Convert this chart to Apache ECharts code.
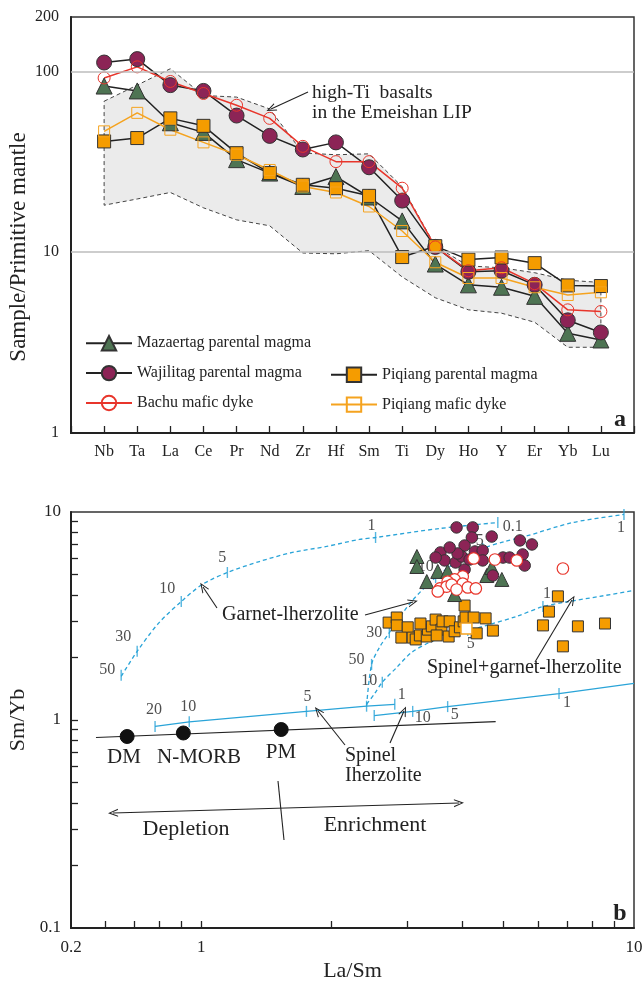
<!DOCTYPE html>
<html>
<head>
<meta charset="utf-8">
<script src="https://cdn.jsdelivr.net/npm/echarts@6/dist/echarts.min.js"></script>
<style>
html, body { margin: 0; padding: 0; background: #fff; }
#main { width: 643px; height: 983px; }
</style>
</head>
<body>
<div id="main"></div>
<script>
var FONT = '"Liberation Serif", "Times New Roman", serif';
var INK = '#222';
var BLUE = '#2aa4d8';

// ---- (a) primitive-mantle normalised patterns ----
var elements = ['Nb', 'Ta', 'La', 'Ce', 'Pr', 'Nd', 'Zr', 'Hf', 'Sm', 'Ti', 'Dy', 'Ho', 'Y', 'Er', 'Yb', 'Lu'];
var mazaertag = [83, 78, 52, 46, 32.5, 27.4, 23.1, 26.2, 20.2, 14.9, 8.6, 6.6, 6.4, 5.7, 3.56, 3.27];
var wajilitag = [112, 117, 84, 78, 57, 44, 37, 40.5, 29.5, 19.3, 10.7, 7.8, 7.9, 6.6, 4.2, 3.6];
var piqiang = [41, 42.8, 55, 50, 35.3, 27.4, 23.6, 22.6, 20.5, 9.4, 10.8, 9.1, 9.35, 8.7, 6.55, 6.5];
var bachuDyke = [92, 106, 88, 75.5, 65, 55, 38.5, 31.7, 31.7, 22.6, 10.7, 7.9, 8.2, 6.7, 4.8, 4.7];
var piqiangDyke = [46.6, 59, 47.6, 40.5, 34.6, 28.5, 23.1, 21.4, 17.9, 13.1, 8.8, 7.2, 7.2, 6.4, 5.8, 6.0];
// high-Ti basalt field (Emeishan LIP)
var emeishanUpper = [68.4, 84, 103.5, 73.6, 72.1, 62, 35.4, 34.6, 35, 23, 10.8, 8.4, 8.2, 7.7, 7.0, 6.8];
var emeishanLower = [18.2, 19.7, 21.4, 17.6, 15.1, 14.0, 9.9, 9.8, 10.2, 7.3, 5.6, 4.8, 4.6, 4.1, 2.98, 2.98];
var ticksA = [1, 2, 3, 4, 5, 6, 7, 8, 9, 10, 20, 30, 40, 50, 60, 70, 80, 90, 100, 200];
var labelsA = [1, 10, 100, 200];

// ---- (b) La/Sm vs Sm/Yb ----
var mazaertagB = [[3.15, 6.11], [3.15, 5.47], [3.32, 4.63], [3.52, 5.18], [3.71, 5.18], [3.85, 4.01], [4.57, 4.95], [4.69, 5.41], [4.95, 4.74]];
var wajilitagB = [[3.89, 8.43], [4.24, 8.43], [4.69, 7.62], [4.22, 7.54], [4.06, 6.90], [3.57, 6.39], [3.65, 5.85], [3.87, 5.72], [4.00, 6.11], [3.91, 6.32], [4.29, 6.46], [4.47, 6.53], [4.47, 5.85], [4.06, 5.29], [4.72, 4.95], [4.98, 6.04], [5.16, 6.04], [5.45, 7.30], [5.81, 6.98], [5.53, 6.25], [5.59, 5.53], [3.75, 6.75], [4.17, 5.91], [3.48, 6.04]];
var bachuB = [[4.26, 5.98], [4.77, 5.91], [5.36, 5.85], [6.85, 5.35], [4.02, 4.90], [3.85, 4.74], [3.71, 4.63], [3.56, 4.29], [3.69, 4.38], [3.52, 4.15], [4.02, 4.53], [4.13, 4.34], [4.31, 4.29], [3.79, 4.48], [3.89, 4.24]];
var piqiangB = [[2.71, 2.94], [2.83, 3.11], [2.83, 2.85], [3.00, 2.79], [2.90, 2.49], [3.08, 2.49], [3.13, 2.44], [3.20, 2.55], [3.32, 2.52], [3.34, 2.72], [3.41, 2.82], [3.48, 3.04], [3.59, 2.72], [3.61, 2.98], [3.75, 2.98], [3.73, 2.52], [3.85, 2.67], [3.96, 2.79], [4.04, 2.98], [4.06, 3.55], [4.08, 3.11], [4.26, 3.11], [4.54, 3.08], [4.33, 2.61], [4.72, 2.69], [6.67, 3.93], [6.36, 3.32], [6.16, 2.85], [6.85, 2.26], [7.42, 2.82], [8.57, 2.91], [3.21, 2.91], [3.50, 2.55]];
var piqiangDykeB = [[4.10, 2.75]];
var sourceNames = ['DM', 'N-MORB', 'PM'];
var sourcePoints = [[0.674, 0.833], [0.909, 0.866], [1.53, 0.90]];
var mantleArray = [[0.571, 0.824], [4.79, 0.983]];
// melting curves
var garnetCurve = [[0.653, 1.62], [0.711, 2.14], [0.799, 2.94], [0.899, 3.71], [1.005, 4.48], [1.149, 5.12], [1.362, 5.78], [1.624, 6.39], [1.947, 6.83], [2.321, 7.38], [2.528, 7.54], [3.555, 8.33], [4.845, 8.90]];
var garnetCurve2 = [[2.41, 1.17], [2.475, 1.85], [2.58, 2.23], [2.72, 2.63], [3.06, 3.71], [3.48, 4.84], [4.0, 5.98], [4.47, 6.68], [5.03, 7.22], [5.59, 7.62], [7.22, 8.90], [9.48, 9.73]];
var spinelGarnetCurve = [[2.41, 1.19], [2.51, 1.33], [2.62, 1.52], [2.83, 1.79], [3.06, 2.11], [3.37, 2.36], [3.69, 2.52], [4.13, 2.69], [4.64, 2.88], [5.36, 3.15], [6.16, 3.51], [6.85, 3.67], [8.34, 3.93], [10, 4.2]];
var spinelLine1 = [[0.782, 0.931], [0.938, 0.98], [1.75, 1.10], [2.41, 1.165], [2.80, 1.19]];
var spinelLine2 = [[2.51, 1.05], [3.08, 1.10], [3.71, 1.16], [6.71, 1.34], [10, 1.50]];
// melting degree marks (x, y, %)
var garnetTicks = [[0.653, 1.64, '50'], [0.711, 2.14, '30'], [0.899, 3.71, '10'], [1.149, 5.12, '5'], [2.528, 7.54, '1'], [4.845, 8.90, '0.1']];
var garnet2Ticks = [[2.475, 1.85, '50'], [2.72, 2.63, '30'], [3.48, 4.84, '10'], [4.47, 6.68, '5'], [9.48, 9.73, '1']];
var spinelGarnetTicks = [[2.62, 1.52, '10'], [4.13, 2.69, '5'], [6.16, 3.51, '1']];
var spinel1Ticks = [[0.782, 0.931, '20'], [0.938, 0.98, '10'], [1.75, 1.10, '5'], [2.41, 1.165, ''], [2.80, 1.19, '1']];
var spinel2Ticks = [[2.51, 1.05, ''], [3.08, 1.10, '10'], [3.71, 1.16, '5'], [6.71, 1.34, '1']];
var xTicksB = [0.6, 0.7, 0.8, 0.9, 1, 2, 3, 4, 5, 6, 7, 8, 9];
var xLabelValuesB = [0.5, 1, 10];
var xLabelTextB = ['0.2', '1', '10'];
var yTicksB = [0.2, 0.3, 0.4, 0.5, 0.6, 0.7, 0.8, 0.9, 1, 2, 3, 4, 5, 6, 7, 8, 9];
var yLabelsB = [0.1, 1, 10];

var CHEV = 'path://M0,12 L6,0 L12,12 L10.4,12 L6,3.2 L1.6,12 Z';

var chart = echarts.init(document.getElementById('main'));

function lineA(name, vals, symbol, size, fill, border, lineColor) {
	return {
		name: name,
		type: 'line',
		xAxisIndex: 0,
		yAxisIndex: 0,
		data: vals.map(function(v, i) {
			return [elements[i], v];
		}),
		symbol: symbol,
		symbolSize: size,
		showAllSymbol: true,
		lineStyle: { color: lineColor, width: 1.5 },
		itemStyle: { color: fill, borderColor: border, borderWidth: 1 },
		z: 3
	};
}

function curveB(pts, dashed) {
	return {
		type: 'line',
		xAxisIndex: 1,
		yAxisIndex: 1,
		data: pts,
		symbol: 'none',
		smooth: dashed ? 0.3 : false,
		lineStyle: { color: BLUE, width: 1.3, type: dashed ? [4, 3] : 'solid' },
		silent: true,
		z: 2
	};
}

function ticksB(ticks, offs) {
	return {
		type: 'scatter',
		xAxisIndex: 1,
		yAxisIndex: 1,
		symbol: 'rect',
		symbolSize: [1.4, 11],
		itemStyle: { color: BLUE },
		silent: true,
		z: 3,
		label: { show: true, position: 'inside', formatter: '{b}', fontFamily: FONT, fontSize: 16, color: INK },
		data: ticks.map(function(t, i) {
			return { name: t[2], value: [t[0], t[1]], label: { offset: offs[i] } };
		})
	};
}

function pointsB(name, pts, symbol, size, fill, border, bw) {
	return {
		name: name,
		type: 'scatter',
		xAxisIndex: 1,
		yAxisIndex: 1,
		data: pts,
		symbol: symbol,
		symbolSize: size,
		itemStyle: { color: fill, borderColor: border, borderWidth: bw, opacity: 1 },
		z: 5
	};
}

function arrows(list) {
	return {
		type: 'line',
		data: [],
		xAxisIndex: 1,
		yAxisIndex: 1,
		markLine: {
			silent: true,
			animation: false,
			symbolSize: [8, 10],
			label: { show: false },
			lineStyle: { color: INK, width: 1.1, type: 'solid' },
			data: list.map(function(a) {
				return [
					{ x: a[0], y: a[1], symbol: a[4] ? CHEV : 'none' },
					{ x: a[2], y: a[3], symbol: a[5] ? CHEV : 'none' }
				];
			})
		}
	};
}

function txt(s, x, y, size, align, bold, rot) {
	return {
		type: 'text',
		x: x,
		y: y,
		rotation: rot || 0,
		silent: true,
		z: 50,
		style: {
			text: s,
			fill: INK,
			font: (bold ? 'bold ' : '') + size + 'px ' + FONT,
			align: align || 'left',
			verticalAlign: 'middle',
			textAlign: align || 'left',
			textVerticalAlign: 'middle'
		}
	};
}

var axisLineStyle = { show: true, lineStyle: { color: INK, width: 2 } };
var tickStyle = { color: INK, width: 1.3 };
var labelStyle = { fontFamily: FONT, fontSize: 16, color: INK };
var legendBase = {
	orient: 'vertical',
	itemWidth: 46,
	itemHeight: 18,
	itemGap: 13.5,
	padding: 0,
	selectedMode: false,
	textStyle: { fontFamily: FONT, fontSize: 16, color: INK }
};
var gridBase = {
	left: 71,
	width: 563,
	height: 416,
	show: true,
	containLabel: false,
	outerBoundsMode: 'none',
	borderColor: '#333',
	borderWidth: 1.5,
	backgroundColor: 'transparent'
};

var option = {
	animation: false,
	backgroundColor: '#fff',
	grid: [
		Object.assign({ top: 17 }, gridBase),
		Object.assign({ top: 512 }, gridBase)
	],
	legend: [
		Object.assign({ data: ['Mazaertag parental magma', 'Wajilitag parental magma', 'Bachu mafic dyke'], left: 85, top: 335 }, legendBase),
		Object.assign({ data: ['Piqiang parental magma', 'Piqiang mafic dyke'], left: 330, top: 366.5 }, legendBase)
	],
	xAxis: [{
		gridIndex: 0,
		type: 'category',
		data: [''].concat(elements, [' ']),
		boundaryGap: false,
		axisLine: axisLineStyle,
		axisTick: { inside: true, length: 7, lineStyle: tickStyle },
		axisLabel: { interval: 0, margin: 11, fontFamily: FONT, fontSize: 16, color: INK },
		splitLine: { show: false }
	}, {
		gridIndex: 1,
		type: 'log',
		logBase: 10,
		min: 0.5,
		max: 10,
		axisLine: axisLineStyle,
		axisTick: { inside: true, length: 7, lineStyle: tickStyle, customValues: xTicksB },
		axisLabel: {
			customValues: xLabelValuesB,
			margin: 11,
			fontFamily: FONT,
			fontSize: 17,
			color: INK,
			formatter: function(v) {
				for (var i = 0; i < xLabelValuesB.length; i++) {
					if (Math.abs(v - xLabelValuesB[i]) < 1e-6) return xLabelTextB[i];
				}
				return '';
			}
		},
		splitLine: { show: false },
		minorTick: { show: false },
		name: 'La/Sm',
		nameLocation: 'middle',
		nameGap: 32,
		nameTextStyle: { fontFamily: FONT, fontSize: 22, color: INK }
	}],
	yAxis: [{
		gridIndex: 0,
		type: 'log',
		logBase: 10,
		min: 1,
		max: 200,
		axisLine: axisLineStyle,
		axisTick: { inside: true, length: 7, lineStyle: tickStyle, customValues: ticksA },
		axisLabel: Object.assign({ customValues: labelsA, margin: 12 }, labelStyle),
		splitLine: { show: false }
	}, {
		gridIndex: 1,
		type: 'log',
		logBase: 10,
		min: 0.1,
		max: 10,
		axisLine: axisLineStyle,
		axisTick: { inside: true, length: 7, lineStyle: tickStyle, customValues: yTicksB },
		axisLabel: { customValues: yLabelsB, margin: 10, fontFamily: FONT, fontSize: 17, color: INK },
		splitLine: { show: false },
		name: 'Sm/Yb',
		nameLocation: 'middle',
		nameGap: 38,
		nameTextStyle: { fontFamily: FONT, fontSize: 22, color: INK }
	}],
	series: [
		// field of Emeishan high-Ti basalts
		{
			type: 'custom',
			xAxisIndex: 0,
			yAxisIndex: 0,
			silent: true,
			z: 1,
			data: [[1, 10]],
			renderItem: function(params, api) {
				var pts = [];
				emeishanUpper.forEach(function(v, i) {
					pts.push(api.coord([i + 1, v]));
				});
				for (var i = emeishanLower.length - 1; i >= 0; i--) {
					pts.push(api.coord([i + 1, emeishanLower[i]]));
				}
				return {
					type: 'polygon',
					shape: { points: pts },
					style: { fill: '#ebebeb', stroke: '#444', lineWidth: 1, lineDash: [4, 3] }
				};
			}
		},
		{
			type: 'line',
			xAxisIndex: 0,
			yAxisIndex: 0,
			data: [],
			z: 2,
			markLine: {
				silent: true,
				symbol: 'none',
				label: { show: false },
				lineStyle: { color: '#bdbdbd', width: 1.5, type: 'solid' },
				data: [{ yAxis: 10 }, { yAxis: 100 }]
			}
		},
		lineA('Mazaertag parental magma', mazaertag, 'triangle', 16, '#4e7453', '#333', INK),
		lineA('Wajilitag parental magma', wajilitag, 'circle', 15, '#8c2456', '#333', INK),
		lineA('Piqiang parental magma', piqiang, 'rect', 13, '#f59c00', '#333', INK),
		lineA('Bachu mafic dyke', bachuDyke, 'circle', 12, 'transparent', '#e8352b', '#e8352b'),
		lineA('Piqiang mafic dyke', piqiangDyke, 'rect', 11, 'transparent', '#f5a31f', '#f5a31f'),
		// top annotation arrow
		{
			type: 'line',
			data: [],
			xAxisIndex: 0,
			yAxisIndex: 0,
			markLine: {
				silent: true,
				symbol: ['none', CHEV],
				symbolSize: [8, 10],
				label: { show: false },
				lineStyle: { color: INK, width: 1.1, type: 'solid' },
				data: [[{ x: 308, y: 92 }, { x: 271, y: 109 }]]
			}
		},

		// ---- panel b ----
		{
			type: 'line',
			xAxisIndex: 1,
			yAxisIndex: 1,
			data: mantleArray,
			symbol: 'none',
			lineStyle: { color: INK, width: 1.2 },
			silent: true,
			z: 2
		},
		curveB(spinelLine1, false),
		curveB(spinelLine2, false),
		curveB(garnetCurve, true),
		curveB(garnetCurve2, true),
		curveB(spinelGarnetCurve, true),
		ticksB(garnetTicks, [[-14, -6], [-14, -14], [-14, -13], [-5, -15], [-4, -12], [15, 4]]),
		ticksB(garnet2Ticks, [[-15, -5], [-15, 0], [-10, -11], [-3, -8], [-3, 13]]),
		ticksB(spinelGarnetTicks, [[-13, -1], [3, 13], [4, -13]]),
		ticksB(spinel1Ticks, [[-1, -17], [-1, -15], [1, -15], [0, 0], [7, -9]]),
		ticksB(spinel2Ticks, [[0, 0], [10, 6], [7, 8], [8, 9]]),
		pointsB('piqiang-b', piqiangB, 'rect', 11, '#f59c00', '#333', 1),
		pointsB('mazaertag-b', mazaertagB, 'triangle', 14, '#4e7453', '#333', 1),
		pointsB('wajilitag-b', wajilitagB, 'circle', 11.5, '#8c2456', '#333', 1),
		pointsB('bachu-b', bachuB, 'circle', 11.5, '#fff', '#e8352b', 1.2),
		pointsB('piqiang-dyke-b', piqiangDykeB, 'rect', 11, '#fff', '#f5a31f', 1.5),
		pointsB('sources', sourcePoints, 'circle', 14, '#111', '#111', 1),
		arrows([
			[217, 608, 203, 587, false, true],
			[365, 615, 413, 602, false, true],
			[535, 662, 572, 600, false, true],
			[345, 745, 318, 711, false, true],
			[390, 743, 404, 711, false, true],
			[113, 813, 459, 803, true, true],
			[278, 781, 284, 840, false, false]
		])
	],
	graphic: [
		txt('Sample/Primitive mantle', 19, 247, 23, 'center', false, Math.PI / 2),
		txt('high-Ti  basalts', 312, 93, 19.5),
		txt('in the Emeishan LIP', 312, 113, 19.5),
		txt('a', 620, 420, 24, 'center', true),
		txt('Garnet-lherzolite', 222, 615, 20),
		txt('Spinel+garnet-lherzolite', 427, 668, 20),
		txt('Spinel', 345, 756, 20),
		txt('Iherzolite', 345, 776, 20),
		txt(sourceNames[0], 124, 757, 21, 'center'),
		txt(sourceNames[1], 199, 757, 21, 'center'),
		txt(sourceNames[2], 281, 752, 21, 'center'),
		txt('Depletion', 186, 829, 22, 'center'),
		txt('Enrichment', 375, 825, 22, 'center'),
		txt('b', 620, 914, 24, 'center', true)
	]
};

chart.setOption(option);
</script>
</body>
</html>
